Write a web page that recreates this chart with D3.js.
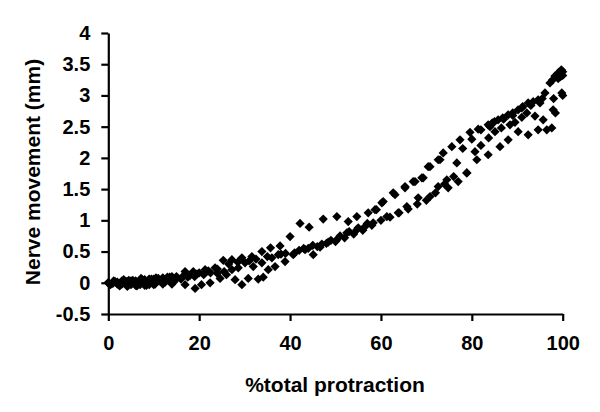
<!DOCTYPE html>
<html><head><meta charset="utf-8">
<script src="https://cdn.jsdelivr.net/npm/d3@7"></script>
<style>
html,body{margin:0;padding:0;background:#fff;}
svg text{font-family:"Liberation Sans",Arial,sans-serif;font-weight:bold;fill:#000;}
</style></head>
<body><svg id="chart" width="600" height="412"></svg>
<script>
// ---- data ----
const xTicks = [0, 20, 40, 60, 80, 100];
const yTicks = [-0.5, 0, 0.5, 1, 1.5, 2, 2.5, 3, 3.5, 4];
const xLabel = "%total protraction";
const yLabel = "Nerve movement (mm)";

// trial 1 (upper trace)
const trial1X = [0,1,2,3,4,5,6,7,8,9,10,11,12,13,14,15,16.9,18.7,21.3,23.5,25.3,27.2,29.4,31.6,33.8,35.7,37.8,40,42.2,44.2,47.3,50.3,52.8,54.7,57.2,59,60.2,62.7,65.3,67.5,69.3,70.8,72.6,73.7,75.6,77.4,79.6,81.4,83.6,84.5,85.8,86.8,88,89,90.2,91.2,92.4,93.5,94.6,95.5,96.1,97.2,97.8,98.3,99,99.5,99.7,100];
const trial1Y = [0,0.01,0.01,0.02,0.02,0.03,0.03,0.04,0.05,0.05,0.06,0.07,0.08,0.09,0.1,0.1,0.18,0.18,0.21,0.24,0.36,0.37,0.4,0.42,0.5,0.56,0.59,0.74,0.95,0.89,1.02,1.06,0.98,1.06,1.12,1.17,1.28,1.44,1.54,1.62,1.68,1.86,1.97,2.08,2.18,2.29,2.41,2.46,2.53,2.56,2.61,2.64,2.69,2.72,2.77,2.82,2.88,2.9,2.93,2.95,3.04,3.2,3.25,3.31,3.36,3.3,3.41,3.38];

// trial 2 (lower trace)
const trial2X = [0,1,2,3,4,5,6,7,8,9,10,12,14,16.9,19.1,20.5,22.4,24.6,26,27.9,29.4,30.8,33,34.1,35.2,36.7,38.9,40.7,43.3,45.1,46.6,48.4,50.3,52.5,54.7,56.5,58.3,61.3,63.8,65.7,68.2,70.8,72.6,74.5,76.7,78.9,81.1,83.6,86.2,88,90.2,92.4,94.6,97.6,99.8];
const trial2Y = [0,-0.01,-0.02,-0.02,-0.03,-0.03,-0.04,-0.03,-0.04,-0.03,-0.03,-0.02,-0.02,-0.03,-0.09,-0.03,0,0.07,0.13,0.05,-0.03,0.07,0.06,0.09,0.21,0.26,0.34,0.45,0.53,0.45,0.57,0.65,0.69,0.8,0.85,0.9,0.96,1.06,1.12,1.22,1.36,1.38,1.54,1.65,1.92,1.76,1.97,2.05,2.18,2.29,2.42,2.37,2.45,2.48,3.04];

// trial 3 (middle trace)
const trial3X = [0,1.5,3,4.5,6,7.5,9,10.5,12,13.5,15,16.5,18,19.5,21,22.5,24,25.5,27.2,28.6,30.1,31.9,33.8,36,37.4,39,41,43,45,47,49,51,53,55,57,58.7,60.5,63.1,65.3,67.1,69,70.4,73,74.8,77,78.9,80.7,82,83.7,85.1,86.5,88.4,89.5,91,92.1,93.9,95.7,97.9,98.4,100];
const trial3Y = [0,0.02,0.03,0.04,0.02,0.05,0.06,0.08,0.07,0.09,0.08,0.11,0.12,0.14,0.13,0.16,0.15,0.18,0.21,0.24,0.32,0.26,0.32,0.4,0.45,0.47,0.48,0.55,0.6,0.62,0.68,0.75,0.82,0.88,0.95,1.17,1.3,1.41,1.52,1.62,1.68,1.86,1.97,1.52,1.62,1.76,2.1,2.2,2.32,2.42,2.48,2.53,2.57,2.65,2.72,2.67,2.61,2.77,2.72,3.0];

// trial 4 (repeat trace)
const trial4X = [0.5,1.2,2.5,3.4,4.2,5.4,6.3,7.2,8.4,9.5,10.3,11.4,12.5,13.3,14.5,16,17.5,19,20,22,24,26.5,28.5,31,32.5,35,38,42,44,46,48,50,52,54,56,58,60,62,64,66,68,70,72,74,76,78,80,82,84,85,87,89,91,93,95,96.5,98,99,100];
const trial4Y = [-0.03,0.03,-0.05,0.05,-0.06,0.04,-0.05,0.07,-0.04,0.06,-0.02,0.03,0.01,0.04,0.02,0.06,0.09,0.1,0.16,0.19,0.22,0.3,0.33,0.35,0.38,0.42,0.46,0.52,0.55,0.58,0.63,0.66,0.72,0.78,0.84,0.92,1.0,1.05,1.12,1.18,1.26,1.32,1.44,1.58,1.7,2.15,2.3,2.45,2.5,2.58,2.62,2.68,2.8,2.84,2.88,2.45,2.95,3.27,3.32];

// ---- chart ----
const svg = d3.select("#chart");
const x = d3.scaleLinear().domain([0, 100]).range([108.3, 562.7]);
const y = d3.scaleLinear().domain([-0.5, 4]).range([314, 33]);

const xAxis = svg.append("g").attr("transform", `translate(0,${y(-0.5)})`)
  .call(d3.axisBottom(x).tickValues(xTicks).tickSize(7).tickSizeOuter(0).tickPadding(15).tickFormat(d3.format("d")));
const yAxis = svg.append("g").attr("transform", `translate(${x(0)},0)`)
  .call(d3.axisLeft(y).tickValues(yTicks).tickSize(7).tickSizeOuter(0).tickPadding(11).tickFormat(d => String(d)));
[xAxis, yAxis].forEach(g => {
  g.selectAll("path.domain").attr("stroke", "#000").attr("stroke-width", 2.2);
  g.selectAll(".tick line").attr("stroke", "#000").attr("stroke-width", 2.2);
  g.selectAll(".tick text").style("font-size", "20px").style("font-family", "'Liberation Sans',Arial,sans-serif").style("font-weight", "bold");
});

const diamond = "M0,-4.6L4.6,0L0,4.6L-4.6,0Z";
const trials = [[trial1X, trial1Y], [trial2X, trial2Y], [trial3X, trial3Y], [trial4X, trial4Y]];
trials.forEach(([xs, ys]) => {
  svg.append("g").selectAll("path").data(xs.map((v, i) => [v, ys[i]])).enter()
    .append("path").attr("d", diamond)
    .attr("transform", d => `translate(${x(d[0])},${y(d[1])})`)
    .attr("fill", "#000");
});

svg.append("text").attr("x", 335).attr("y", 392).attr("text-anchor", "middle")
  .style("font-size", "21px").text(xLabel);
svg.append("text").attr("transform", "translate(40,172) rotate(-90)").attr("text-anchor", "middle")
  .style("font-size", "21px").text(yLabel);
</script></body></html>
